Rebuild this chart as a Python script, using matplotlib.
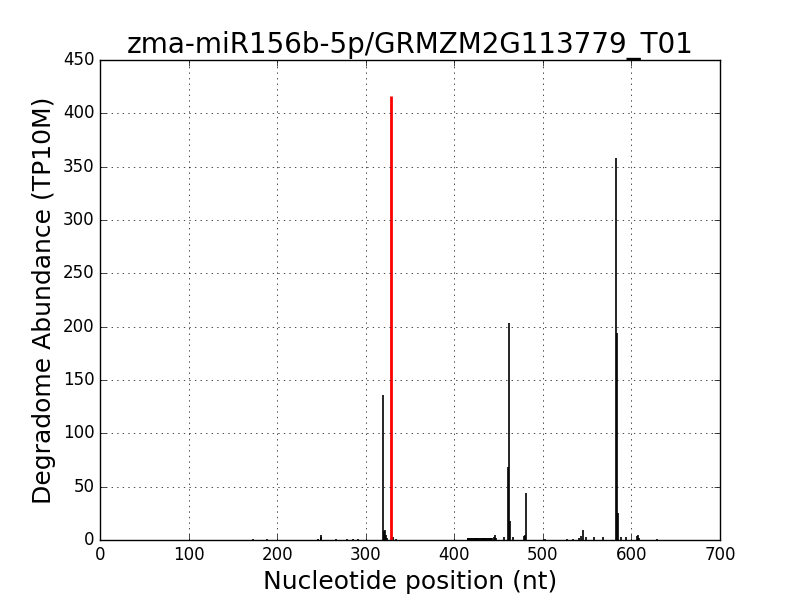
import matplotlib
matplotlib.use("Agg")
import matplotlib.pyplot as plt

plt.style.use("classic")

title = "zma-miR156b-5p/GRMZM2G113779_T01"

# nonzero degradome abundances (position, TP10M)
peak_positions = [173, 188, 246, 249, 250, 267, 279, 286, 291,
                  320, 321, 322, 323, 324, 331, 334,
                  415, 416, 417, 418, 419, 420, 421, 422, 423, 424,
                  425, 426, 427, 428, 429, 430, 431, 432, 433, 434,
                  435, 436, 437, 438, 439, 440, 441, 442, 443,
                  445, 446, 447, 456,
                  461, 462, 463, 466, 479, 480, 481,
                  502, 527, 534, 541, 543, 545, 549, 558, 568,
                  583, 584, 585, 588, 594, 606, 607, 608, 629]
peak_values = [0.5, 0.5, 1, 3, 5, 0.5, 0.5, 0.8, 0.8,
               136, 8, 9, 5, 2, 3, 1,
               1.5, 1.5, 1.5, 1.5, 1.5, 1.5, 1.5, 1.5, 1.5, 1.5,
               1.5, 1.5, 1.5, 1.5, 1.5, 1.5, 1.5, 1.5, 1.5, 1.5,
               1.5, 1.5, 1.5, 1.5, 1.5, 1.5, 1.5, 2, 2,
               3, 5, 2, 3,
               68, 203, 18, 3, 4, 5, 44,
               1, 1, 1, 2, 4, 9, 3, 3, 3,
               358, 194, 25, 3, 3, 4, 5, 2, 1]

cleavage_position = 329
cleavage_value = 416

fig = plt.figure(figsize=(8, 6), dpi=100)
ax = fig.add_subplot(111)
ax.vlines(peak_positions, 0, peak_values, color="k", linewidth=1.2)
ax.vlines([cleavage_position], 0, [cleavage_value], color="r", linewidth=2)
ax.set_xlim(0, 700)
ax.set_ylim(0, 450)
ax.grid(True)
ax.set_title(title, fontsize=20)
ax.set_xlabel("Nucleotide position (nt)", fontsize=18)
ax.set_ylabel("Degradome Abundance (TP10M)", fontsize=18)
fig.savefig("out.png", dpi=100)
